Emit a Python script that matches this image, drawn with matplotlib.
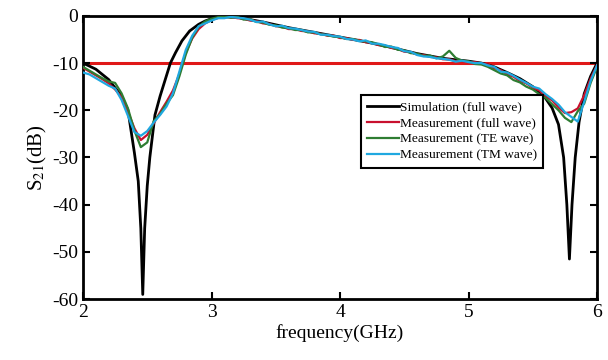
import numpy as np
import matplotlib
matplotlib.use("Agg")
import matplotlib.pyplot as plt

plt.rcParams['font.family'] = 'Liberation Serif'
plt.rcParams['mathtext.fontset'] = 'stix'
plt.rcParams['axes.unicode_minus'] = False

# simulation (full wave)
sim_f = [2.0, 2.1, 2.2, 2.3, 2.35, 2.4, 2.43, 2.45, 2.465, 2.48, 2.5, 2.52,
         2.56, 2.6, 2.68, 2.72, 2.77, 2.83, 2.9, 2.95, 3.0, 3.1, 3.2, 3.4, 3.6, 3.8,
         4.0, 4.2, 4.4, 4.6, 4.8, 5.0, 5.1, 5.2, 5.3, 5.4, 5.5, 5.6, 5.65, 5.7, 5.74,
         5.765, 5.785, 5.805, 5.83, 5.86, 5.9, 5.95, 6.0]
sim_s = [-10.0, -11.3, -13.5, -17.0, -20.0, -29.0, -35.0, -45.0, -59.0, -45.0, -36.0,
         -30.0, -21.0, -17.0, -10.0, -7.8, -5.3, -3.2, -1.8, -1.1, -0.6, -0.2, -0.3,
         -1.3, -2.5, -3.5, -4.5, -5.5, -6.7, -8.0, -9.0, -9.6, -10.0, -10.8, -12.0,
         -13.3, -15.0, -17.5, -19.5, -23.0, -30.0, -40.0, -51.5, -40.0, -30.0, -22.5,
         -16.5, -12.8, -10.0]

# measurements on a 0.05 GHz grid
meas_f = np.round(np.arange(2.0, 6.0001, 0.05), 2)
meas_full = [-11.0, -11.8, -12.6, -13.4, -14.3, -15.6, -17.2, -20.3, -23.8, -26.3,
             -25.2, -22.8, -20.4, -18.2, -15.8, -12.3, -7.8, -4.8, -2.8, -1.6,
             -0.9, -0.4, -0.3, -0.2, -0.5, -0.6, -1.0, -1.1, -1.6, -1.7,
             -2.2, -2.3, -2.8, -2.8, -3.2, -3.3, -3.7, -3.8, -4.2, -4.2,
             -4.7, -4.7, -5.1, -5.1, -5.6, -5.7, -6.2, -6.3, -6.8, -7.0,
             -7.6, -7.7, -8.2, -8.3, -8.7, -8.8, -9.2, -9.2, -9.6, -9.6,
             -9.9, -9.8, -10.1, -10.3, -11.1, -11.5, -12.4, -12.9, -13.8, -14.3,
             -15.2, -15.8, -17.0, -17.9, -19.4, -20.6, -20.4, -19.6, -16.8, -13.3,
             -10.4]
meas_te = [-10.8, -11.6, -12.4, -13.2, -13.9, -14.2, -16.4, -19.6, -24.3, -27.8,
           -26.8, -22.3, -20.8, -18.6, -16.8, -12.8, -8.2, -4.6, -2.3, -1.2,
           -0.6, -0.3, -0.1, -0.4, -0.2, -0.8, -0.7, -1.3, -1.4, -1.9,
           -2.0, -2.5, -2.6, -3.0, -3.0, -3.5, -3.5, -3.9, -4.1, -4.4,
           -4.5, -4.9, -4.9, -5.3, -5.4, -5.6, -6.0, -6.6, -6.5, -7.2,
           -7.3, -7.9, -8.0, -8.5, -8.4, -9.0, -8.6, -7.4, -8.9, -9.5,
           -9.6, -10.2, -10.3, -10.8, -11.5, -12.2, -12.6, -13.6, -14.1, -15.0,
           -15.6, -16.6, -17.4, -18.7, -20.0, -21.6, -22.5, -20.2, -18.6, -14.2,
           -10.8]
meas_tm = [-12.0, -12.4, -13.2, -14.0, -14.8, -15.4, -17.8, -21.2, -24.6, -25.4,
           -24.4, -22.6, -21.0, -19.2, -16.4, -11.8, -7.2, -4.2, -2.2, -1.6,
           -1.0, -0.5, -0.5, -0.2, -0.4, -0.5, -0.8, -1.3, -1.2, -1.8,
           -2.2, -2.1, -2.6, -2.7, -3.0, -3.3, -3.4, -4.0, -4.0, -4.3,
           -4.4, -4.9, -5.0, -5.4, -5.2, -5.9, -5.9, -6.2, -6.6, -6.8,
           -7.5, -7.6, -8.3, -8.6, -8.7, -9.0, -9.1, -9.3, -9.7, -9.5,
           -9.8, -10.0, -10.0, -10.5, -10.8, -11.8, -12.0, -12.7, -13.5, -14.2,
           -15.0, -15.4, -16.6, -17.6, -18.8, -20.4, -21.4, -22.4, -18.2, -13.8,
           -10.5]

ref_level = -10

fig = plt.figure(figsize=(6.08, 3.6), dpi=100)
ax = fig.add_axes([0.1365, 0.169, 0.8455, 0.787])

ax.axhline(ref_level, color='#e01818', lw=2.2, zorder=1)
ax.plot(sim_f, sim_s, color='black', lw=2, label='Simulation (full wave)', zorder=2)
ax.plot(meas_f, meas_full, color='#c8102e', lw=1.6, label='Measurement (full wave)', zorder=3)
ax.plot(meas_f, meas_te, color='#2e7d32', lw=1.6, label='Measurement (TE wave)', zorder=3)
ax.plot(meas_f, meas_tm, color='#1fa8e0', lw=1.6, label='Measurement (TM wave)', zorder=4)

ax.set_xlim(2, 6)
ax.set_ylim(-60, 0)
ax.set_xticks([2, 3, 4, 5, 6])
ax.set_yticks([0, -10, -20, -30, -40, -50, -60])
ax.tick_params(direction='in', top=True, right=True, length=5, width=1.5, labelsize=14)
for sp in ax.spines.values():
    sp.set_linewidth(2)

ax.set_xlabel('frequency(GHz)', fontsize=14, labelpad=2)
ax.set_ylabel('S$_{21}$(dB)', fontsize=15, labelpad=2)

leg = ax.legend(loc='upper left', bbox_to_anchor=(0.541, 0.72), fontsize=9.6,
                handlelength=2.4, handletextpad=0.05, borderpad=0.45,
                labelspacing=0.28, borderaxespad=0, fancybox=False, framealpha=1,
                edgecolor='black')
leg.get_frame().set_linewidth(1.5)

fig.savefig('out.png', dpi=100)
